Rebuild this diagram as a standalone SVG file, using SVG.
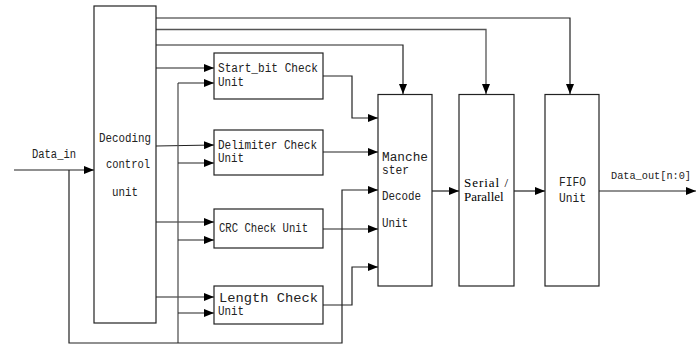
<svg xmlns="http://www.w3.org/2000/svg" width="696" height="344" viewBox="0 0 696 344">
<defs>
<marker id="ah" markerWidth="10" markerHeight="8" refX="10" refY="4" orient="auto" markerUnits="userSpaceOnUse">
<path d="M0,0 L10,4 L0,8 Z" fill="#000"/>
</marker>
<style>
.box{fill:#fff;stroke:#222;stroke-width:1.2}
.ln{fill:none;stroke:#222;stroke-width:1.2}
.lg{fill:none;stroke:#555;stroke-width:1.3}
.t{font-family:"Liberation Mono",monospace;font-size:12.5px;fill:#222}
.s{font-family:"Liberation Serif",serif;font-size:13px;fill:#000}
</style>
</defs>
<rect width="696" height="344" fill="#fff"/>
<g id="connectors">
<polyline class="ln" points="156,18 570,18 570,94" marker-end="url(#ah)"/>
<polyline class="lg" points="156,29.5 486,29.5 486,94" marker-end="url(#ah)"/>
<polyline class="ln" points="156,45 403,45 403,94" marker-end="url(#ah)"/>
<line class="ln" x1="156" y1="68" x2="214" y2="68" marker-end="url(#ah)"/>
<line class="ln" x1="156" y1="146" x2="214" y2="145" marker-end="url(#ah)"/>
<line class="ln" x1="156" y1="222" x2="214" y2="222" marker-end="url(#ah)"/>
<line class="ln" x1="156" y1="297" x2="214" y2="297" marker-end="url(#ah)"/>
<line class="lg" x1="178" y1="83" x2="178" y2="343"/>
<line class="ln" x1="178" y1="83" x2="214" y2="83" marker-end="url(#ah)"/>
<line class="ln" x1="178" y1="163" x2="214" y2="163" marker-end="url(#ah)"/>
<line class="ln" x1="178" y1="240" x2="214" y2="240" marker-end="url(#ah)"/>
<line class="ln" x1="178" y1="313" x2="214" y2="313" marker-end="url(#ah)"/>
<line class="ln" x1="14" y1="170" x2="94" y2="170" marker-end="url(#ah)"/>
<polyline class="ln" points="69,170 69,343 342,343 342,190 378,190" marker-end="url(#ah)"/>
<polyline class="ln" points="323,76 352,76 352,118 378,118" marker-end="url(#ah)"/>
<line class="ln" x1="323" y1="152" x2="378" y2="152" marker-end="url(#ah)"/>
<line class="ln" x1="323" y1="229" x2="378" y2="229" marker-end="url(#ah)"/>
<polyline class="ln" points="323,305 352,305 352,267 378,267" marker-end="url(#ah)"/>
<line class="ln" x1="432" y1="191" x2="459" y2="191" marker-end="url(#ah)"/>
<line class="ln" x1="514" y1="191" x2="545" y2="191" marker-end="url(#ah)"/>
<line class="ln" x1="599" y1="191" x2="696" y2="191" marker-end="url(#ah)"/>
</g>
<g id="decoding">
<rect class="box" x="94" y="6" width="62" height="317"/>
<text class="t" x="99" y="142" textLength="52" lengthAdjust="spacingAndGlyphs">Decoding</text>
<text class="t" x="106" y="168" textLength="44" lengthAdjust="spacingAndGlyphs">control</text>
<text class="t" x="112" y="196" textLength="26" lengthAdjust="spacingAndGlyphs">unit</text>
</g>
<g id="startbit">
<rect class="box" x="214" y="53" width="109" height="46"/>
<text class="t" x="218" y="72" textLength="100" lengthAdjust="spacingAndGlyphs">Start_bit Check</text>
<text class="t" x="218" y="86" textLength="26" lengthAdjust="spacingAndGlyphs">Unit</text>
</g>
<g id="delimiter">
<rect class="box" x="214" y="130" width="109" height="45"/>
<text class="t" x="218" y="149" textLength="99" lengthAdjust="spacingAndGlyphs">Delimiter Check</text>
<text class="t" x="218" y="162" textLength="26" lengthAdjust="spacingAndGlyphs">Unit</text>
</g>
<g id="crc">
<rect class="box" x="214" y="209" width="109" height="39"/>
<text class="t" x="219" y="232" textLength="89" lengthAdjust="spacingAndGlyphs">CRC Check Unit</text>
</g>
<g id="length">
<rect class="box" x="214" y="286" width="109" height="38"/>
<text class="t" x="219" y="302" textLength="99" lengthAdjust="spacingAndGlyphs">Length  Check</text>
<text class="t" x="218" y="315" textLength="26" lengthAdjust="spacingAndGlyphs">Unit</text>
</g>
<g id="manchester">
<rect class="box" x="378" y="94.5" width="54" height="191.5"/>
<text class="t" x="382" y="161" textLength="46" lengthAdjust="spacingAndGlyphs">Manche</text>
<text class="t" x="382" y="174" textLength="27" lengthAdjust="spacingAndGlyphs">ster</text>
<text class="t" x="382" y="200" textLength="39" lengthAdjust="spacingAndGlyphs">Decode</text>
<text class="t" x="382" y="227" textLength="26" lengthAdjust="spacingAndGlyphs">Unit</text>
</g>
<g id="serial">
<rect class="box" x="459" y="94.5" width="55" height="191.5"/>
<text class="s" x="464" y="187" textLength="44">Serial /</text>
<text class="s" x="464" y="201">Parallel</text>
</g>
<g id="fifo">
<rect class="box" x="545" y="94.5" width="54" height="191.5"/>
<text class="t" x="559" y="186" fill="#444" textLength="27" lengthAdjust="spacingAndGlyphs">FIFO</text>
<text class="t" x="559" y="202" fill="#444" textLength="27" lengthAdjust="spacingAndGlyphs">Unit</text>
</g>
<g id="labels">
<text class="t" x="32" y="158" textLength="44" lengthAdjust="spacingAndGlyphs">Data_in</text>
<text class="t" x="611" y="179" style="font-size:10.5px" textLength="80" lengthAdjust="spacingAndGlyphs">Data_out[n:0]</text>
</g>
</svg>
